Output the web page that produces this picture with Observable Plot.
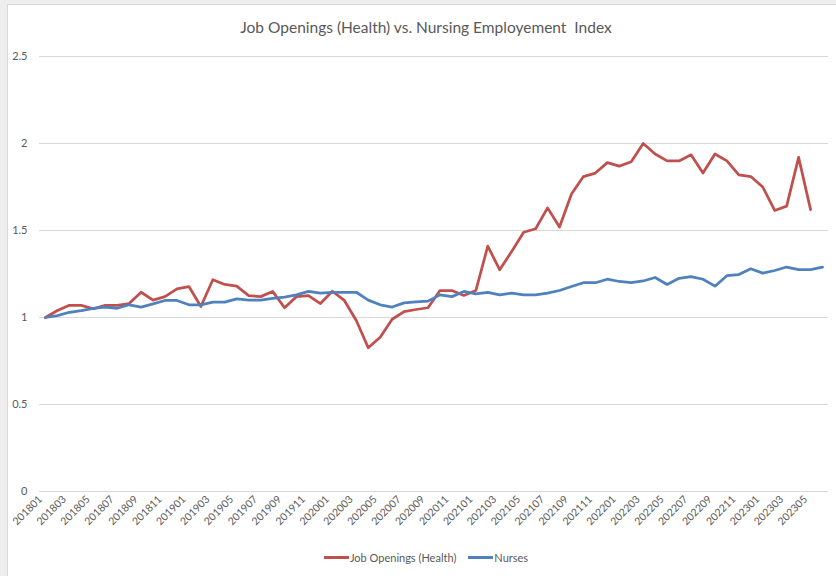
<!DOCTYPE html>
<html>
<head>
<meta charset="utf-8">
<script src="https://cdn.jsdelivr.net/npm/d3@7"></script>
<script src="https://cdn.jsdelivr.net/npm/@observablehq/plot@0.6"></script>
<style>
  html, body { margin: 0; padding: 0; background: #eeeeee; width: 836px; height: 576px; overflow: hidden; font-family: Lato, "Open Sans", sans-serif; }
  #frame { position: absolute; left: 7px; top: 4px; width: 829px; height: 572px; background: #ffffff; border-left: 1px solid #d9d9d9; border-top: 1px solid #d9d9d9; box-sizing: border-box; }
  #title { position: absolute; left: 0; top: 18px; width: 852px; text-align: center; font-size: 15.5px; color: #595959; white-space: nowrap; }
  #chart { position: absolute; left: 0; top: 45px; }
  #legend { position: absolute; left: 0; top: 551px; width: 852px; display: flex; justify-content: center; align-items: center; font-size: 11px; color: #595959; }
  .item { display: flex; align-items: center; margin: 0 6px; }
  .sw { width: 25px; height: 3px; margin-right: 1px; }
</style>
</head>
<body>
<div id="frame"></div>
<div id="title">Job Openings (Health) vs. Nursing Employement&nbsp; Index</div>
<div id="chart"></div>
<div id="legend">
  <div class="item"><div class="sw" style="background:#c0504d"></div><span>Job Openings (Health)</span></div>
  <div class="item"><div class="sw" style="background:#4f81bd"></div><span>Nurses</span></div>
</div>
<script>
const months = [
  "201801","201802","201803","201804","201805","201806","201807","201808","201809","201810","201811","201812",
  "201901","201902","201903","201904","201905","201906","201907","201908","201909","201910","201911","201912",
  "202001","202002","202003","202004","202005","202006","202007","202008","202009","202010","202011","202012",
  "202101","202102","202103","202104","202105","202106","202107","202108","202109","202110","202111","202112",
  "202201","202202","202203","202204","202205","202206","202207","202208","202209","202210","202211","202212",
  "202301","202302","202303","202304","202305","202306"
];

const jobOpenings = [
  1.00, 1.04, 1.07, 1.07, 1.05, 1.07, 1.07, 1.08, 1.145, 1.10, 1.12, 1.165,
  1.178, 1.063, 1.217, 1.19, 1.18, 1.126, 1.12, 1.15, 1.056, 1.12, 1.126, 1.08,
  1.151, 1.098, 0.983, 0.826, 0.887, 0.99, 1.034, 1.046, 1.056, 1.155, 1.155, 1.127,
  1.155, 1.41, 1.274, 1.38, 1.49, 1.51, 1.63, 1.52, 1.71, 1.81, 1.83, 1.89,
  1.87, 1.895, 2.00, 1.94, 1.90, 1.90, 1.935, 1.83, 1.94, 1.90, 1.82, 1.81,
  1.75, 1.615, 1.64, 1.92, 1.62
];

const nurses = [
  1.00, 1.011, 1.03, 1.04, 1.053, 1.06, 1.053, 1.073, 1.06, 1.078, 1.098, 1.098,
  1.073, 1.073, 1.088, 1.088, 1.107, 1.10, 1.10, 1.11, 1.117, 1.13, 1.15, 1.14,
  1.145, 1.145, 1.145, 1.10, 1.073, 1.06, 1.084, 1.09, 1.094, 1.13, 1.12, 1.15,
  1.136, 1.144, 1.13, 1.14, 1.13, 1.13, 1.14, 1.155, 1.178, 1.20, 1.20, 1.22,
  1.207, 1.20, 1.21, 1.23, 1.19, 1.225, 1.235, 1.22, 1.18, 1.24, 1.247, 1.28,
  1.255, 1.27, 1.29, 1.275, 1.275, 1.29
];

const yTicks = [0, 0.5, 1, 1.5, 2, 2.5];
const xTickLabels = months.filter((m, i) => i % 2 === 0);

const seriesNames = ["Job Openings (Health)", "Nurses"];
const seriesColors = ["#c0504d", "#4f81bd"];

const rows = [
  ...jobOpenings.map((v, i) => ({month: months[i], value: v, series: seriesNames[0]})),
  ...nurses.map((v, i) => ({month: months[i], value: v, series: seriesNames[1]}))
];

const plot = Plot.plot({
  width: 836,
  height: 500,
  marginTop: 11,
  marginBottom: 54,
  marginLeft: 39,
  marginRight: 8,
  style: {fontFamily: "Lato, 'Open Sans', sans-serif", fontSize: "11px", color: "#595959", background: "transparent"},
  x: {type: "point", domain: months, padding: 0.5},
  y: {domain: [0, 2.5]},
  color: {domain: seriesNames, range: seriesColors},
  marks: [
    Plot.gridY(yTicks, {stroke: "#d9d9d9", strokeOpacity: 1, strokeWidth: 1}),
    Plot.axisY(yTicks, {tickSize: 0, tickPadding: 12, tickFormat: d => String(d), fill: "#595959", fontSize: 11, label: null}),
    Plot.axisX(xTickLabels, {tickSize: 0, tickPadding: 6, dx: -5, tickRotate: -45, fill: "#595959", fontSize: 10.5, label: null}),
    Plot.lineY(rows, {x: "month", y: "value", z: "series", stroke: "series", strokeWidth: 2.75, strokeLinejoin: "round", strokeLinecap: "round"})
  ]
});
document.getElementById("chart").appendChild(plot);
</script>
</body>
</html>
